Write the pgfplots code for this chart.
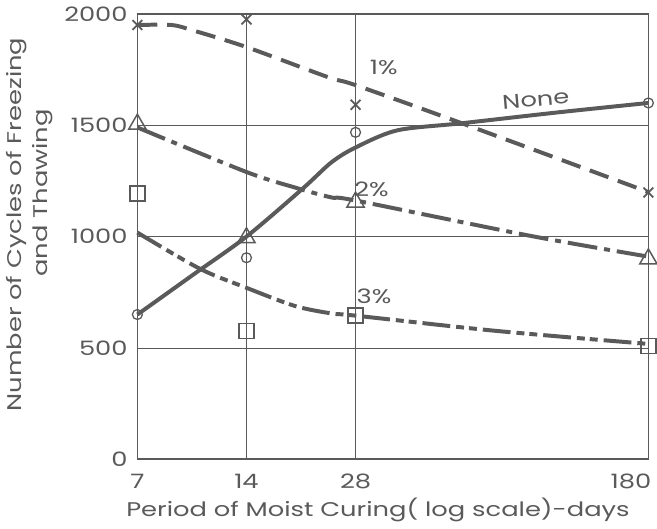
\documentclass[border=0pt]{standalone}
\usepackage{pgfplots}
\pgfplotsset{compat=1.18}
\usepackage{fontspec}
\setmainfont{Poppins}[FakeStretch=1.3]
\definecolor{ink}{RGB}{90,90,90}
\begin{document}
\fontsize{20}{22}\selectfont
\begin{tikzpicture}[x=1bp,y=1bp]
\begin{axis}[
  scale only axis,
  width=514bp, height=448bp,
  xmode=log,
  xmin=7, xmax=180, ymin=0, ymax=2000,
  xtick={7,14,28,180}, xticklabels={7,14,28,\makebox[0pt][r]{180\kern-3bp}},
  ytick={0,500,1000,1500,2000},
  /pgf/number format/assume math mode=true,
  /pgf/number format/1000 sep={},
  grid=major,
  major grid style={ink, line width=0.8bp},
  major tick length=0pt,
  axis line style={ink, line width=1.6bp},
  tick label style={ink, font=\fontsize{20}{22}\selectfont},
  yticklabel style={xshift=-3bp},
  xticklabel style={yshift=-8bp},
  xlabel={Period of Moist Curing( log scale)-days},
  xlabel style={ink, font=\fontsize{20}{22}\selectfont, yshift=4bp, xshift=-15bp},
  ylabel={Number of Cycles of Freezing\\[4bp]\hspace*{64bp}and Thawing},
  ylabel style={ink, align=center, font=\fontsize{20}{22}\selectfont, at={(ticklabel cs:0.527)}, yshift=-2bp},
  clip=false,
]
% None curve
\addplot[ink, line width=4bp, smooth, tension=0.5] coordinates {
 (7,650) (10,830) (14,1000) (20,1215) (24,1333) (28,1400) (36.5,1477) (55,1509) (103,1559) (180,1600)};
% 1% curve
\addplot[ink, line width=4bp, smooth, tension=0.5, dash pattern=on 20bp off 10bp] coordinates {
 (7,1950) (8.7,1950) (10,1925) (14,1851) (23.5,1716) (28,1680) (55,1509) (180,1200)};
% 2% curve
\addplot[ink, line width=4bp, smooth, tension=0.5, dash pattern=on 30bp off 7bp on 6bp off 7bp] coordinates {
 (7,1490) (14,1290) (19,1221) (24,1176) (28,1162) (84,1005) (180,910)};
% 3% curve
\addplot[ink, line width=4bp, smooth, tension=0.5, dash pattern=on 28bp off 6bp on 8bp off 5bp on 8bp off 6bp] coordinates {
 (7,1018) (10.4,856) (14,770) (19,689) (24,655) (28,645) (68,577) (180,518)};
% markers
\addplot[only marks, mark=o, mark size=5bp, mark options={ink, fill=white, line width=1.3bp}] coordinates {
 (7,650) (14,905) (28,1468) (180,1600)};
\addplot[only marks, mark=x, mark size=7bp, mark options={ink, line width=1.8bp}] coordinates {
 (7,1950) (14,1975) (28,1592) (180,1198)};
\addplot[only marks, mark=triangle, mark size=10bp, mark options={ink, fill=white, line width=1.5bp}] coordinates {
 (7,1505) (14,995) (28,1155) (180,900)};
\addplot[only marks, mark=square, mark size=7.5bp, mark options={ink, fill=white, line width=1.5bp}] coordinates {
 (7,1193) (14,577) (28,645) (180,509)};
% curve labels
\node[ink] at (axis cs:33.5,1760) {1\%};
\node[ink, rotate=5] at (axis cs:88,1615) {None};
\node[ink] at (axis cs:31,1210) {2\%};
\node[ink] at (axis cs:31.5,730) {3\%};
\end{axis}
\end{tikzpicture}
\end{document}
